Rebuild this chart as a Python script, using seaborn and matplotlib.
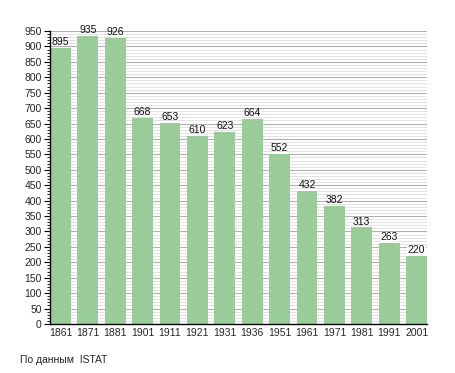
import matplotlib
matplotlib.use('Agg')
import matplotlib.pyplot as plt
from matplotlib.ticker import MultipleLocator
import pandas as pd
import seaborn as sns

years = ['1861', '1871', '1881', '1901', '1911', '1921', '1931',
         '1936', '1951', '1961', '1971', '1981', '1991', '2001']
population = [895, 935, 926, 668, 653, 610, 623, 664, 552, 432, 382, 313, 263, 220]
source_text = 'По данным  ISTAT'

df = pd.DataFrame({'year': years, 'pop': population})

sns.set_style('white')
plt.rcParams['font.family'] = ['Liberation Sans', 'DejaVu Sans']

fig = plt.figure(figsize=(4.55, 3.73), dpi=100)
ax = fig.add_axes([50 / 455, 1 - 324 / 373, 377 / 455, 293 / 373])

bw = 0.76
sns.barplot(data=df, x='year', y='pop', color='#99cc99', saturation=1,
            width=bw, linewidth=0, edgecolor='none', ax=ax, zorder=2)

ax.set_xlim(-bw / 2, len(years) - 1 + bw / 2)
ax.set_ylim(0, 950)
ax.yaxis.set_major_locator(MultipleLocator(50))
ax.yaxis.set_minor_locator(MultipleLocator(10))
ax.grid(axis='y', which='major', color='#b0b0b0', linewidth=0.8, zorder=0)
ax.grid(axis='y', which='minor', color='#e2e2e2', linewidth=0.7, zorder=0)
ax.set_axisbelow(True)

for s in ['top', 'right']:
    ax.spines[s].set_visible(False)
for s in ['left', 'bottom']:
    ax.spines[s].set_color('black')
    ax.spines[s].set_linewidth(1.0)

ax.tick_params(axis='y', which='major', length=4, width=0.8, color='black',
               labelsize=7.5, pad=2, left=True)
ax.tick_params(axis='y', which='minor', length=2, width=0.6, color='black', left=True)
ax.tick_params(axis='x', length=0, labelsize=7.5, pad=3)
ax.set_xlabel('')
ax.set_ylabel('')

for i, v in enumerate(population):
    ax.text(i, v + 3, str(v), ha='center', va='bottom', fontsize=7.5,
            color='#111111', clip_on=False,
            bbox=dict(facecolor='white', edgecolor='none', pad=0.3) if v < 300 else None)

fig.text(20 / 455, 1 - 360 / 373, source_text, fontsize=7.5, va='center', ha='left')

fig.savefig('out.png', dpi=100)
